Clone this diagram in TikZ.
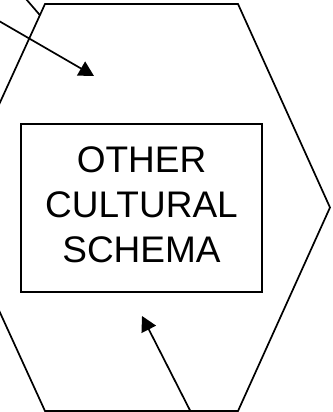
\documentclass[tikz,border=0pt]{standalone}
\usepackage{fontspec}
\setmainfont{Liberation Sans}
\usetikzlibrary{arrows.meta,positioning,calc}
\tikzset{
  outline/.style={draw=black, line width=1.7pt, line join=miter},
  schemabox/.style={draw=black, line width=1.7pt, minimum width=241pt, minimum height=168pt,
                    inner sep=0pt},
  schematext/.style={align=center, font=\fontsize{37}{45}\selectfont, inner sep=0pt},
  flow/.style={-{Triangle[length=15pt,width=16pt]}, line width=1.7pt, draw=black},
  lead/.style={line width=1.7pt, draw=black},
}

\begin{document}
\begin{tikzpicture}[x=1pt, y=-1pt]
    \useasboundingbox (0,0) rectangle (332,412);
    % hexagon corners (left corner lies outside the picture)
    \coordinate (h1) at (45,4);
    \coordinate (h2) at (238,4);
    \coordinate (h3) at (330,207.5);
    \coordinate (h4) at (238,411);
    \coordinate (h5) at (45,411);
    \coordinate (h6) at (-48,207.5);
    \draw[outline] (h1) -- (h2) -- (h3) -- (h4) -- (h5) -- (h6) -- cycle;
    \node[schemabox] (schema) at (141.5,208) {};
    \node[schematext, yshift=3pt] (label) at (schema.center) {OTHER\\CULTURAL\\SCHEMA};
    % incoming connectors
    \coordinate (inA) at (-20,10);
    \coordinate (tipA) at (94,76);
    \draw[flow] (inA) -- (tipA);
    \coordinate (inB) at (20,-8);
    \coordinate (hitB) at ($(h1)!0.0547!(h6)$);
    \draw[lead] (inB) -- (hitB);
    \coordinate (inC) at ($(h5)!0.753!(h4)$);
    \coordinate (tipC) at (142,316);
    \draw[flow] (inC) -- (tipC);
\end{tikzpicture}
\end{document}
